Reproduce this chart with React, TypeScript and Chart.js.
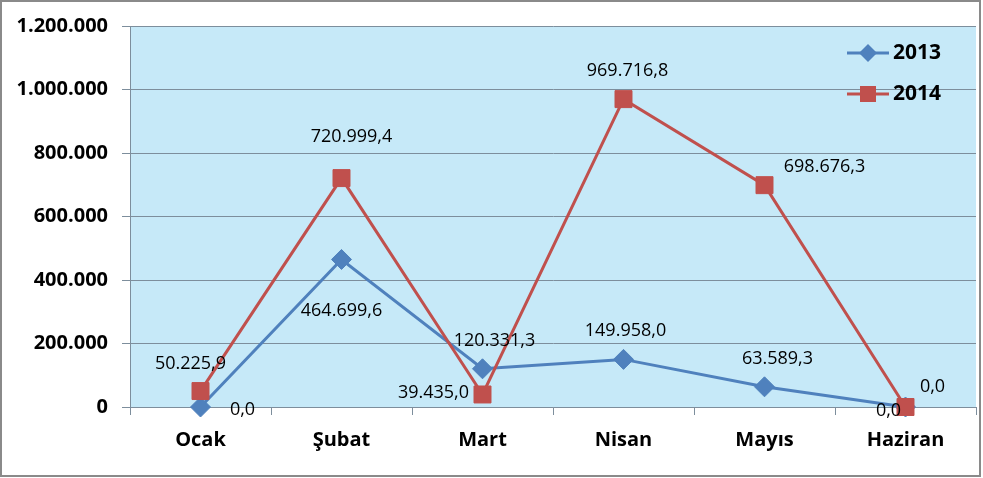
import React, { useEffect, useRef } from "react";
import { Chart, registerables } from "chart.js";

Chart.register(...registerables);

const months = ["Ocak", "Şubat", "Mart", "Nisan", "Mayıs", "Haziran"];
const series2013 = [0, 464699.6, 120331.3, 149958.0, 63589.3, 0];
const series2014 = [50225.9, 720999.4, 39435.0, 969716.8, 698676.3, 0];
const seriesNames = ["2013", "2014"];
const yMin = 0;
const yMax = 1200000;
const yStep = 200000;

// label offsets (styling only)
const labelOffsets2013 = [[42, 3], [0, 51], [12, -28], [2, -29], [13, -28], [-17, 4]];
const labelOffsets2014 = [[-10, -27], [10, -41], [-49, -2], [4, -28], [60, -18], [27, -20]];

const BLUE = "#4F81BD";
const RED = "#C0504D";
const GRID = "#7d8e9c";
const FONT = "'Open Sans', 'Liberation Sans', sans-serif";

function fmt(v: number, dec: number): string {
  const fixed = v.toFixed(dec);
  const [i, d] = fixed.split(".");
  const ii = i.replace(/\B(?=(\d{3})+(?!\d))/g, ".");
  return d ? ii + "," + d : ii;
}

const bgPlugin = {
  id: "bgPlugin",
  beforeDraw(chart: any) {
    const { ctx, chartArea } = chart;
    ctx.save();
    ctx.fillStyle = "#ffffff";
    ctx.fillRect(0, 0, chart.width, chart.height);
    ctx.fillStyle = "#C6E9F8";
    ctx.fillRect(chartArea.left, chartArea.top, chartArea.right - chartArea.left, chartArea.bottom - chartArea.top);
    ctx.restore();
  },
  afterDraw(chart: any) {
    const { ctx } = chart;
    ctx.save();
    ctx.strokeStyle = "#8a8a8a";
    ctx.lineWidth = 2;
    ctx.strokeRect(1, 1, 979, 475);
    ctx.restore();
  },
};

const labelPlugin = {
  id: "labelPlugin",
  afterDatasetsDraw(chart: any) {
    const { ctx } = chart;
    const offsets = [labelOffsets2013, labelOffsets2014];
    ctx.save();
    ctx.fillStyle = "#000000";
    ctx.font = `normal 18px ${FONT}`;
    ctx.textAlign = "center";
    ctx.textBaseline = "middle";
    chart.data.datasets.forEach((ds: any, di: number) => {
      const meta = chart.getDatasetMeta(di);
      meta.data.forEach((pt: any, i: number) => {
        const [dx, dy] = offsets[di][i];
        ctx.fillText(fmt(ds.data[i], 1), pt.x + dx, pt.y + dy);
      });
    });
    ctx.restore();
  },
};

const legendPlugin = {
  id: "legendPlugin",
  afterDraw(chart: any) {
    const { ctx } = chart;
    const rows = [
      { y: 53, color: BLUE, shape: "diamond", text: seriesNames[0] },
      { y: 94, color: RED, shape: "square", text: seriesNames[1] },
    ];
    ctx.save();
    rows.forEach((r) => {
      ctx.strokeStyle = r.color;
      ctx.lineWidth = 3;
      ctx.beginPath();
      ctx.moveTo(847, r.y);
      ctx.lineTo(889, r.y);
      ctx.stroke();
      ctx.fillStyle = r.color;
      ctx.beginPath();
      if (r.shape === "diamond") {
        ctx.moveTo(868, r.y - 9);
        ctx.lineTo(877, r.y);
        ctx.lineTo(868, r.y + 9);
        ctx.lineTo(859, r.y);
        ctx.closePath();
      } else {
        ctx.rect(860, r.y - 8, 16, 16);
      }
      ctx.fill();
      ctx.fillStyle = "#000000";
      ctx.font = `bold 21px ${FONT}`;
      ctx.textAlign = "left";
      ctx.textBaseline = "middle";
      ctx.fillText(r.text, 893, r.y);
    });
    ctx.restore();
  },
};

export default function App() {
  const ref = useRef<HTMLCanvasElement>(null);
  useEffect(() => {
    if (!ref.current) return;
    const chart = new Chart(ref.current, {
      type: "line",
      data: {
        labels: months,
        datasets: [
          {
            label: seriesNames[0],
            data: series2013,
            borderColor: BLUE,
            backgroundColor: BLUE,
            borderWidth: 3,
            pointStyle: "rectRot",
            pointRadius: 10,
            pointBorderWidth: 1,
            pointBorderColor: BLUE,
            pointBackgroundColor: BLUE,
            tension: 0,
            clip: false as any,
            order: 1,
          },
          {
            label: seriesNames[1],
            data: series2014,
            borderColor: RED,
            backgroundColor: RED,
            borderWidth: 3,
            pointStyle: "rect",
            pointRadius: 12,
            pointBorderWidth: 1,
            pointBorderColor: RED,
            pointBackgroundColor: RED,
            tension: 0,
            clip: false as any,
            order: 0,
          },
        ],
      },
      options: {
        responsive: false,
        animation: false,
        devicePixelRatio: 1,
        layout: { autoPadding: false, padding: { top: 24, right: 7, left: 0, bottom: 0 } },
        plugins: { legend: { display: false }, tooltip: { enabled: false } },
        scales: {
          x: {
            offset: true,
            grid: {
              offset: true,
              drawOnChartArea: false,
              drawTicks: true,
              tickLength: 8,
              color: GRID,
            },
            border: { display: true, color: GRID, width: 1 },
            ticks: {
              color: "#000000",
              font: { family: FONT, size: 20, weight: "bold" },
              padding: 13,
              maxRotation: 0,
            },
            afterFit(scale: any) {
              scale.height = 71;
              scale.paddingLeft = 0;
              scale.paddingRight = 0;
            },
          },
          y: {
            min: yMin,
            max: yMax,
            grid: { color: GRID, tickLength: 8, drawTicks: true },
            border: { display: true, color: GRID, width: 1 },
            ticks: {
              stepSize: yStep,
              color: "#000000",
              font: { family: FONT, size: 20, weight: "bold" },
              padding: 14,
              callback: (v: any) => fmt(Number(v), 0),
            },
            afterFit(scale: any) {
              scale.width = 130;
            },
          },
        },
      },
      plugins: [bgPlugin, labelPlugin, legendPlugin],
    });
    return () => chart.destroy();
  }, []);
  return (
    <div style={{ position: "absolute", left: 0, top: 0, width: 983, height: 478 }}>
      <canvas ref={ref} width={983} height={478} style={{ display: "block" }} />
    </div>
  );
}
